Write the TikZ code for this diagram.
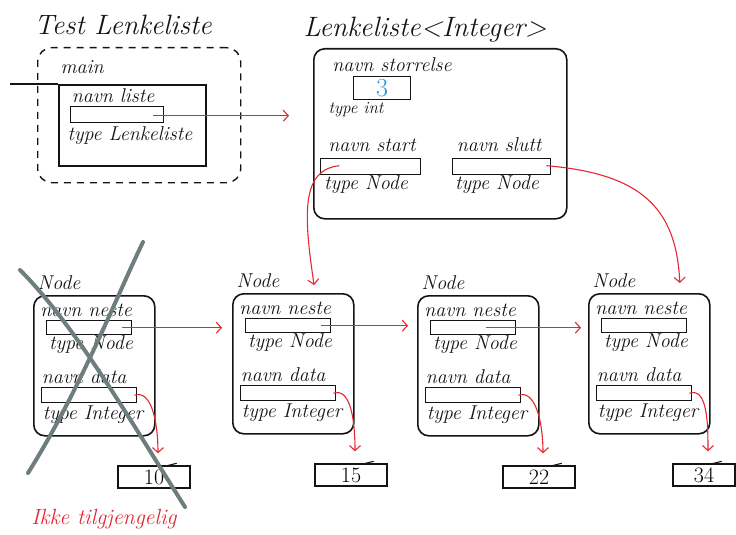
\documentclass[tikz,border=0pt]{standalone}
\usetikzlibrary{arrows.meta,calc}
\definecolor{pen}{RGB}{20,20,20}
\definecolor{redpen}{RGB}{228,40,48}
\definecolor{bluepen}{RGB}{40,150,220}
\definecolor{graypen}{RGB}{110,125,125}
\tikzset{
 hand/.style={font=\itshape\fontsize{20}{20}\selectfont, inner sep=0pt, text=pen, anchor=base},
 smallhand/.style={font=\itshape\fontsize{17}{17}\selectfont, inner sep=0pt, text=pen, anchor=base},
 heading/.style={font=\itshape\fontsize{28}{28}\selectfont, inner sep=0pt, text=pen, anchor=base},
 objbox/.style={draw=pen, line width=1.6pt, rounded corners=11pt, inner sep=0pt, anchor=north west},
 fieldbox/.style={draw=pen, line width=1.4pt, inner sep=0pt, anchor=north west},
 valbox/.style={draw=pen, line width=1.4pt, minimum height=22, inner sep=0pt, font=\fontsize{22}{22}\selectfont},
 ptr/.style={draw=redpen, line width=1.1pt, -{Straight Barb[length=5pt,width=11pt]}},
 crossline/.style={draw=graypen, line width=4pt, line cap=round},
 tick/.style={draw=pen, line width=1.1pt},
}
% #1 prefix, #2 x, #3 y, #4 value, #5 value box width, #6 value centre x offset
\newcommand\listnode[6]{%
 \begin{scope}[shift={(#2,#3)}]
  \node[objbox, minimum width=121, minimum height=140] (#1) at (0,0) {};
  \node[hand] (#1title) at (26,-6) {Node};
  \node[hand] (#1nl) at (53,21) {navn neste};
  \node[fieldbox, minimum width=85, minimum height=14] (#1n) at (13,25) {};
  \node[hand] (#1nt) at (58,54) {type Node};
  \node[hand] (#1dl) at (51,88) {navn data};
  \node[fieldbox, minimum width=95, minimum height=15] (#1d) at (8,92) {};
  \node[hand] (#1dt) at (60,124) {type Integer};
  \node[valbox, minimum width=#5] (#1v) at (#6,182) {#4};
 \end{scope}
 \draw[tick] ([xshift=-26,yshift=-1]#1v.north east) -- ++(12,-3);
 \draw[ptr, shorten >=12] ([xshift=-3]#1d.east) .. controls +(18,-6) and +(0,-40) .. ([xshift=4]#1v.north);
}
\begin{document}
\begin{tikzpicture}[x=1pt,y=-1pt]
\useasboundingbox (0,0) rectangle (736,535);

% ---- TestLenkeliste / main ----
\node[heading] (tltitle) at (123,35) {Test Lenkeliste};
\node[draw=pen, line width=1.4pt, dash pattern=on 7pt off 6pt, rounded corners=14pt,
      minimum width=203, minimum height=135, inner sep=0pt, anchor=north west] (frame) at (37,47) {};
\node[hand] (mainlbl) at (82,74) {main};
\node[draw=pen, line width=1.6pt, minimum width=147, minimum height=81, inner sep=0pt, anchor=north west] (mainbox) at (58,84) {};
\coordinate (stackedge) at (10,84);
\draw[pen, line width=1.6pt] (stackedge) -- (mainbox.north west);
\node[hand] (listelbl) at (113,102) {navn liste};
\node[fieldbox, minimum width=93, minimum height=16] (liste) at (70,106) {};
\node[hand] (listetype) at (130,140) {type Lenkeliste};

% ---- Lenkeliste<Integer> ----
\node[heading] (lktitle) at (425,37) {Lenkeliste<Integer>};
\node[objbox, minimum width=253, minimum height=170] (lk) at (313,48) {};
\node[hand] (storlbl) at (392,71) {navn storrelse};
\node[fieldbox, minimum width=57, minimum height=23] (stor) at (353,76) {};
\node[font=\fontsize{26}{26}\selectfont, text=bluepen, inner sep=0pt] (storval) at (stor.center) {3};
\node[smallhand] (stortype) at (356,113) {type int};
\node[hand] (startlbl) at (372,151) {navn start};
\node[hand] (sluttlbl) at (499,151) {navn slutt};
\node[fieldbox, minimum width=100, minimum height=16] (start) at (320,158) {};
\node[fieldbox, minimum width=98, minimum height=16] (slutt) at (452,158) {};
\node[hand] (starttype) at (366,189) {type Node};
\node[hand] (slutttype) at (497,189) {type Node};

% ---- nodes ----
\listnode{na}{33}{295}{10}{72}{121}
\listnode{nb}{232}{293}{15}{72}{119}
\listnode{nc}{417}{295}{22}{72}{122}
\listnode{nd}{588}{293}{34}{62}{116}

% ---- pointers ----
\draw[ptr, shorten >=13] ([xshift=-11,yshift=-1]liste.east) -- ([xshift=-11,yshift=-1]liste.east -| lk.west);
\draw[ptr, shorten >=10] ([xshift=-10]nan.east) -- (nan.east -| nb.west);
\draw[ptr, shorten >=9] ([xshift=-10]nbn.east) -- (nbn.east -| nc.west);
\draw[ptr, shorten >=7] ([xshift=-30]ncn.east) -- (ncn.east -| nd.west);
\draw[ptr, shorten >=8] ([xshift=-82,yshift=1]start.east) .. controls +(-38,4) and +(-12,-80) .. ([xshift=22]nb.north);
\draw[ptr, shorten >=10] ([xshift=-5,yshift=1]slutt.east) .. controls +(95,8) and +(-4,-85) .. ([xshift=31]nd.north);

% ---- crossed-out node ----
\draw[crossline] (20,270) .. controls (75,325) and (130,420) .. (185,507);
\draw[crossline] (28,473) .. controls (80,390) and (115,300) .. (143,242);
\node[font=\itshape\fontsize{22}{22}\selectfont, text=redpen, inner sep=0pt, anchor=base] (gone) at (104,524) {Ikke tilgjengelig};
\end{tikzpicture}
\end{document}
